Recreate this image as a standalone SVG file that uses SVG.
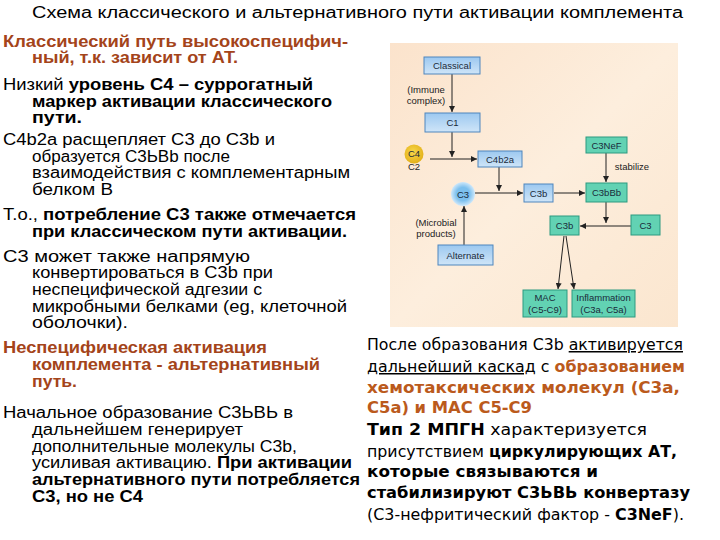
<svg xmlns="http://www.w3.org/2000/svg" width="720" height="540" viewBox="0 0 720 540">
<defs>
<linearGradient id="panel" x1="0" y1="0" x2="1" y2="1">
<stop offset="0" stop-color="#fbe3cc"/>
<stop offset="0.5" stop-color="#fdeedd"/>
<stop offset="1" stop-color="#fbe6cf"/>
</linearGradient>
<linearGradient id="blue" x1="0" y1="0" x2="0" y2="1">
<stop offset="0" stop-color="#9cc8f0"/>
<stop offset="1" stop-color="#cfe5f8"/>
</linearGradient>
<radialGradient id="c3g" cx="0.5" cy="0.5" r="0.5">
<stop offset="0.55" stop-color="#7cc0ee"/>
<stop offset="1" stop-color="#cfe8fa"/>
</radialGradient>
<radialGradient id="c4g" cx="0.45" cy="0.4" r="0.6">
<stop offset="0" stop-color="#f8d84a"/>
<stop offset="1" stop-color="#e3b019"/>
</radialGradient>
<marker id="ah" viewBox="0 0 6 6" refX="6" refY="3" markerWidth="6" markerHeight="6" markerUnits="userSpaceOnUse" orient="auto">
<path d="M0,0 L6,3 L0,6 z" fill="#222"/>
</marker>
</defs>
<style>
.t{font-family:"Liberation Sans",Arial,sans-serif;font-size:16px;fill:#000}
.b{font-weight:bold}
.o{fill:#a4441a;font-weight:bold}
.r{font-family:"DejaVu Sans","Liberation Sans",sans-serif;font-size:15px;fill:#000}
.ro{fill:#bb5a1c;font-weight:bold}
.u{text-decoration:underline}
.nb{fill:url(#blue);stroke:#4f86bd;stroke-width:1}
.ng{fill:#62d2b3;stroke:#2c9a80;stroke-width:1}
.nt{font-family:"Liberation Sans",Arial,sans-serif;font-size:9.5px;fill:#1a2a3a;text-anchor:middle}
.lt{font-family:"Liberation Sans",Arial,sans-serif;font-size:9.5px;fill:#222;text-anchor:middle}
.c{stroke:#222;stroke-width:1;fill:none;marker-end:url(#ah)}
</style>
<rect width="720" height="540" fill="#fff"/>

<text class="t" x="32" y="18" font-size="15.5" textLength="651" lengthAdjust="spacingAndGlyphs">Схема классического и альтернативного пути активации комплемента</text>

<g id="left-text">
<text class="t o" x="3" y="47" textLength="345" lengthAdjust="spacingAndGlyphs">Классический путь высокоспецифич-</text>
<text class="t o" x="32" y="63" textLength="206" lengthAdjust="spacingAndGlyphs">ный, т.к. зависит от АТ.</text>
<text class="t" x="3" y="90" textLength="310" lengthAdjust="spacingAndGlyphs">Низкий <tspan class="b">уровень С4 – суррогатный</tspan></text>
<text class="t b" x="32" y="107" textLength="300" lengthAdjust="spacingAndGlyphs">маркер активации классического</text>
<text class="t b" x="32" y="123" textLength="50" lengthAdjust="spacingAndGlyphs">пути.</text>
<text class="t" x="3" y="145" textLength="272" lengthAdjust="spacingAndGlyphs">С4b2a расщепляет С3 до С3b и</text>
<text class="t" x="32" y="162" textLength="198" lengthAdjust="spacingAndGlyphs">образуется С3ЬВb после</text>
<text class="t" x="32" y="178" textLength="318" lengthAdjust="spacingAndGlyphs">взаимодействия с  комплементарным</text>
<text class="t" x="32" y="195" textLength="81" lengthAdjust="spacingAndGlyphs">белком В</text>
<text class="t" x="3" y="220" textLength="353" lengthAdjust="spacingAndGlyphs">Т.о., <tspan class="b">потребление С3 также отмечается</tspan></text>
<text class="t b" x="32" y="237" textLength="315" lengthAdjust="spacingAndGlyphs">при классическом пути активации.</text>
<text class="t" x="3" y="262" textLength="247" lengthAdjust="spacingAndGlyphs">С3 может также напрямую</text>
<text class="t" x="32" y="278" textLength="241" lengthAdjust="spacingAndGlyphs">конвертироваться в С3b при</text>
<text class="t" x="32" y="295" textLength="230" lengthAdjust="spacingAndGlyphs">неспецифической адгезии с</text>
<text class="t" x="32" y="312" textLength="315" lengthAdjust="spacingAndGlyphs">микробными белками (eg, клеточной</text>
<text class="t" x="32" y="328" textLength="96" lengthAdjust="spacingAndGlyphs">оболочки).</text>
<text class="t o" x="3" y="353" textLength="264" lengthAdjust="spacingAndGlyphs">Неспецифическая активация</text>
<text class="t o" x="32" y="370" textLength="288" lengthAdjust="spacingAndGlyphs">комплемента - альтернативный</text>
<text class="t o" x="32" y="387" textLength="45" lengthAdjust="spacingAndGlyphs">путь.</text>
<text class="t" x="3" y="418" textLength="290" lengthAdjust="spacingAndGlyphs">Начальное образование С3ЬВЬ в</text>
<text class="t" x="32" y="435" textLength="211" lengthAdjust="spacingAndGlyphs">дальнейшем генерирует</text>
<text class="t" x="32" y="452" textLength="265" lengthAdjust="spacingAndGlyphs">дополнительные молекулы С3b,</text>
<text class="t" x="32" y="468" textLength="320" lengthAdjust="spacingAndGlyphs">усиливая активацию. <tspan class="b">При активации</tspan></text>
<text class="t b" x="32" y="485" textLength="328" lengthAdjust="spacingAndGlyphs">альтернативного пути потребляется</text>
<text class="t b" x="32" y="502" textLength="111" lengthAdjust="spacingAndGlyphs">С3, но не С4</text>
</g>

<g id="right-text">
<text class="r" x="367" y="350" textLength="316" lengthAdjust="spacingAndGlyphs">После образования С3b <tspan class="u">активируется</tspan></text>
<text class="r" x="367" y="372" textLength="318" lengthAdjust="spacingAndGlyphs"><tspan class="u">дальнейший каскад</tspan> с <tspan class="ro">образованием</tspan></text>
<text class="r ro" x="367" y="393" textLength="313" lengthAdjust="spacingAndGlyphs">хемотаксических молекул (С3а,</text>
<text class="r ro" x="367" y="413" textLength="165" lengthAdjust="spacingAndGlyphs">С5а) и МАС С5-С9</text>
<text class="r" x="367" y="435" textLength="280" lengthAdjust="spacingAndGlyphs"><tspan class="b">Тип 2 МПГН</tspan> характеризуется</text>
<text class="r" x="367" y="457" textLength="310" lengthAdjust="spacingAndGlyphs">присутствием <tspan class="b">циркулирующих АТ,</tspan></text>
<text class="r b" x="367" y="477" textLength="231" lengthAdjust="spacingAndGlyphs">которые связываются  и</text>
<text class="r b" x="367" y="498" textLength="323" lengthAdjust="spacingAndGlyphs">стабилизируют С3ЬВЬ конвертазу</text>
<text class="r" x="367" y="520" textLength="317" lengthAdjust="spacingAndGlyphs">(С3-нефритический фактор - <tspan class="b">С3NeF</tspan>).</text>
</g>

<rect x="390" y="43" width="288" height="284" fill="url(#panel)"/>

<g id="connectors">
<line class="c" x1="452" y1="74" x2="452" y2="112"/>
<line class="c" x1="452" y1="132" x2="452" y2="157"/>
<line class="c" x1="430" y1="159" x2="477" y2="159"/>
<line class="c" x1="499" y1="167" x2="499" y2="191"/>
<line class="c" x1="475" y1="193" x2="523" y2="193"/>
<line class="c" x1="554" y1="193" x2="585" y2="193"/>
<line class="c" x1="606" y1="153" x2="606" y2="182"/>
<line class="c" x1="606" y1="202" x2="606" y2="223"/>
<line class="c" x1="631" y1="226" x2="580" y2="226"/>
<line class="c" x1="564" y1="236" x2="558" y2="289"/>
<line class="c" x1="566" y1="236" x2="574" y2="289"/>
<line class="c" x1="464" y1="245" x2="464" y2="206"/>
</g>

<g id="classical"><rect class="nb" x="424" y="57" width="56" height="17"/><text class="nt" x="452" y="68.5">Classical</text></g>
<g id="immune-label"><text class="lt" x="426" y="93">(Immune</text><text class="lt" x="426" y="104">complex)</text></g>
<g id="c1"><rect class="nb" x="425" y="113" width="55" height="19"/><text class="nt" x="452.5" y="125.5">C1</text></g>
<g id="c4"><circle cx="414" cy="154" r="9.5" fill="url(#c4g)"/><text class="nt" x="414" y="157">C4</text><text class="lt" x="414" y="170">C2</text></g>
<g id="c4b2a"><rect class="nb" x="478" y="151" width="44" height="16"/><text class="nt" x="500" y="162.5">C4b2a</text></g>
<g id="c3neF"><rect class="ng" x="586" y="137" width="41" height="16"/><text class="nt" x="606.5" y="148.5">C3NeF</text><text class="lt" x="632" y="170">stabilize</text></g>
<g id="c3-circle"><circle cx="463" cy="194" r="12" fill="url(#c3g)"/><text class="nt" x="463" y="197.5">C3</text></g>
<g id="c3b-blue"><rect class="nb" x="524" y="184" width="29" height="18"/><text class="nt" x="538.5" y="196.5">C3b</text></g>
<g id="c3bbb"><rect class="ng" x="586" y="183" width="41" height="19"/><text class="nt" x="606.5" y="196">C3bBb</text></g>
<g id="c3-right"><rect class="ng" x="631" y="215" width="29" height="20"/><text class="nt" x="645.5" y="228.5">C3</text></g>
<g id="c3b-green"><rect class="ng" x="550" y="216" width="29" height="19"/><text class="nt" x="564.5" y="229">C3b</text></g>
<g id="microbial-label"><text class="lt" x="436" y="226">(Microbial</text><text class="lt" x="436" y="237">products)</text></g>
<g id="alternate"><rect class="nb" x="438" y="245" width="55" height="20"/><text class="nt" x="465.5" y="258.5">Alternate</text></g>
<g id="mac"><rect class="ng" x="523" y="290" width="44" height="27"/><text class="nt" x="545" y="301">MAC</text><text class="nt" x="545" y="312.5">(C5-C9)</text></g>
<g id="inflammation"><rect class="ng" x="572" y="290" width="63" height="27"/><text class="nt" x="603.5" y="301">Inflammation</text><text class="nt" x="603.5" y="312.5">(C3a, C5a)</text></g>
</svg>
